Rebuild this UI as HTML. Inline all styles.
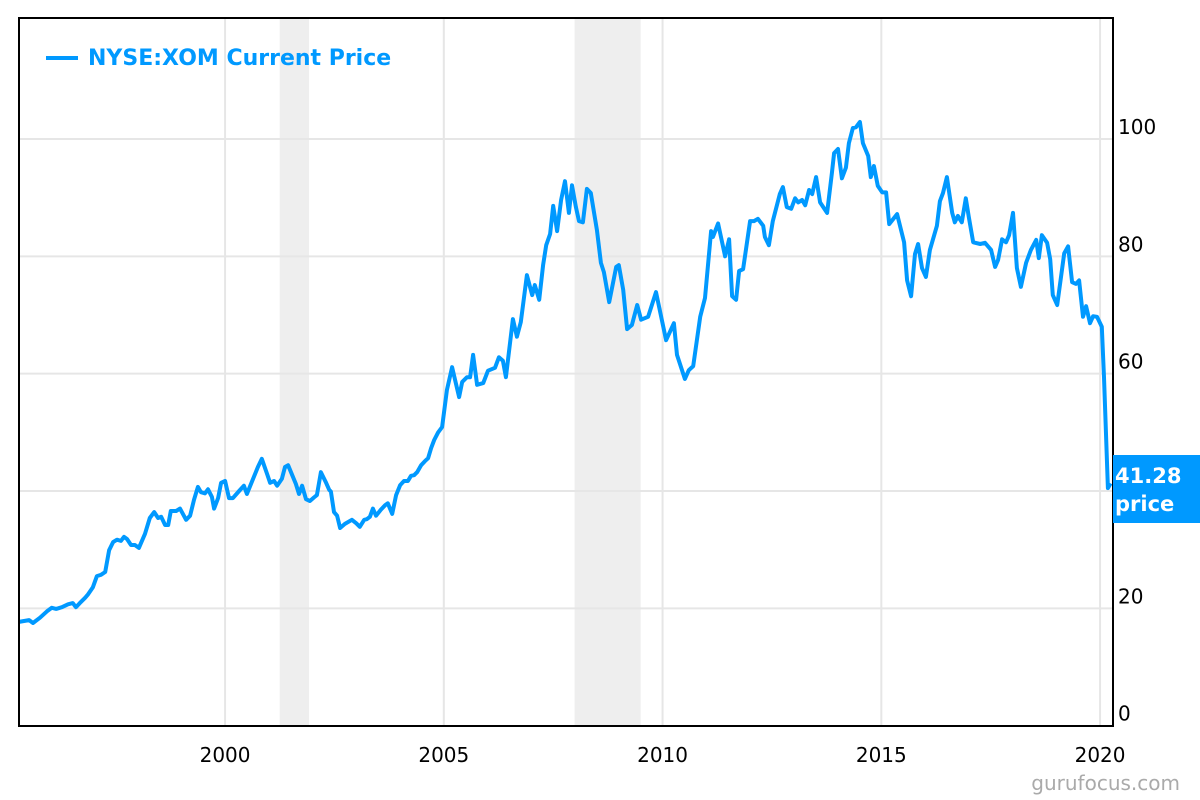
<!DOCTYPE html>
<html><head><meta charset="utf-8"><style>
html,body{margin:0;padding:0;background:#fff;}
svg{display:block;font-family:"DejaVu Sans","Liberation Sans",sans-serif;}
</style></head><body>
<svg id="chart" width="1200" height="800" viewBox="0 0 1200 800">
<g id="bands"></g>
<g id="grid"></g>
<g id="series"></g>
<rect x="19" y="18" width="1094" height="708" fill="none" stroke="#000" stroke-width="2"/>
<g id="yticks"></g>
<g id="xticks"></g>
<g>
<line x1="46" y1="58" x2="78" y2="58" stroke="#0099ff" stroke-width="4"/>
<text x="88" y="65" font-size="22" font-weight="bold" fill="#0099ff">NYSE:XOM Current Price</text>
</g>
<g id="tag"></g>
<text x="1180" y="790" font-size="20" fill="#aaa" text-anchor="end">gurufocus.com</text>
</svg>
<script>
const dates=[1995.29,1995.52,1995.61,1995.77,1995.93,1996.04,1996.14,1996.27,1996.41,1996.52,1996.59,1996.68,1996.80,1996.87,1996.98,1997.07,1997.16,1997.26,1997.35,1997.44,1997.53,1997.62,1997.69,1997.76,1997.85,1997.94,1998.03,1998.17,1998.28,1998.38,1998.47,1998.54,1998.63,1998.70,1998.76,1998.88,1998.97,1999.11,1999.20,1999.29,1999.38,1999.45,1999.54,1999.61,1999.70,1999.75,1999.84,1999.91,2000.00,2000.09,2000.18,2000.32,2000.43,2000.50,2000.62,2000.75,2000.84,2000.96,2001.03,2001.12,2001.19,2001.30,2001.37,2001.44,2001.62,2001.69,2001.76,2001.85,2001.94,2002.03,2002.10,2002.19,2002.31,2002.38,2002.42,2002.49,2002.56,2002.63,2002.74,2002.90,2003.00,2003.08,2003.18,2003.24,2003.31,2003.38,2003.45,2003.56,2003.66,2003.72,2003.82,2003.91,2004.00,2004.09,2004.18,2004.25,2004.32,2004.39,2004.48,2004.57,2004.64,2004.71,2004.78,2004.87,2004.96,2005.07,2005.19,2005.35,2005.42,2005.53,2005.60,2005.67,2005.76,2005.90,2006.01,2006.17,2006.26,2006.35,2006.42,2006.58,2006.67,2006.76,2006.90,2007.02,2007.08,2007.18,2007.27,2007.34,2007.43,2007.50,2007.59,2007.68,2007.77,2007.86,2007.93,2008.02,2008.09,2008.18,2008.27,2008.36,2008.50,2008.59,2008.66,2008.78,2008.94,2009.00,2009.10,2009.19,2009.30,2009.42,2009.51,2009.67,2009.85,2010.08,2010.26,2010.33,2010.51,2010.60,2010.70,2010.86,2010.97,2011.11,2011.15,2011.27,2011.43,2011.52,2011.59,2011.68,2011.75,2011.84,2012.00,2012.09,2012.18,2012.30,2012.34,2012.43,2012.52,2012.68,2012.75,2012.84,2012.94,2013.03,2013.10,2013.19,2013.26,2013.35,2013.42,2013.51,2013.60,2013.76,2013.87,2013.92,2014.01,2014.10,2014.19,2014.26,2014.35,2014.42,2014.51,2014.58,2014.70,2014.76,2014.83,2014.92,2015.02,2015.11,2015.18,2015.36,2015.52,2015.59,2015.68,2015.77,2015.84,2015.93,2016.02,2016.11,2016.27,2016.34,2016.41,2016.50,2016.62,2016.68,2016.75,2016.84,2016.93,2017.00,2017.10,2017.26,2017.37,2017.51,2017.60,2017.67,2017.76,2017.85,2017.92,2018.01,2018.10,2018.19,2018.31,2018.42,2018.54,2018.60,2018.67,2018.79,2018.86,2018.92,2019.02,2019.18,2019.27,2019.36,2019.45,2019.52,2019.61,2019.68,2019.77,2019.84,2019.93,2020.04,2020.09,2020.18,2020.24];
const prices=[17.7,18.0,17.5,18.4,19.5,20.1,19.9,20.2,20.7,20.9,20.2,20.9,21.8,22.4,23.6,25.5,25.7,26.2,29.9,31.3,31.7,31.5,32.2,31.8,30.8,30.8,30.3,32.7,35.4,36.4,35.4,35.6,34.2,34.2,36.6,36.6,37.0,35.1,35.8,38.5,40.7,39.8,39.6,40.3,39.0,37.0,38.8,41.4,41.7,38.8,38.8,40.0,40.9,39.5,41.7,44.1,45.5,42.9,41.4,41.7,40.9,42.1,44.1,44.4,41.2,39.5,40.9,38.6,38.3,38.9,39.3,43.2,41.4,40.2,39.9,36.4,35.8,33.7,34.4,35.1,34.5,33.9,35.1,35.2,35.6,37.0,35.8,36.8,37.6,37.9,36.1,39.3,41.0,41.7,41.7,42.6,42.7,43.2,44.4,45.1,45.6,47.3,48.7,50.0,50.9,57.2,61.1,56.0,58.6,59.4,59.4,63.2,58.1,58.4,60.5,61.0,62.8,62.2,59.4,69.3,66.3,68.8,76.8,73.4,75.1,72.6,78.5,81.9,83.8,88.6,84.3,89.6,92.8,87.4,92.1,88.4,86.0,85.8,91.5,90.8,84.5,78.9,77.3,72.2,78.2,78.5,74.3,67.6,68.3,71.7,69.2,69.7,73.9,65.7,68.6,63.2,59.1,60.6,61.3,69.7,72.9,84.3,83.3,85.6,80.0,82.9,73.2,72.6,77.5,77.8,86.0,86.0,86.4,85.2,83.3,81.9,86.0,90.6,91.8,88.4,88.1,89.9,89.2,89.6,88.7,91.3,90.6,93.5,89.2,87.4,94.2,97.6,98.3,93.3,95.1,99.3,101.9,102.0,102.9,99.3,97.1,93.5,95.4,92.0,90.9,90.9,85.5,87.2,82.4,75.9,73.2,80.4,82.1,78.0,76.5,81.1,85.2,89.4,90.8,93.5,87.4,85.8,86.9,85.8,89.9,86.7,82.4,82.1,82.3,81.1,78.2,79.4,82.9,82.4,83.6,87.4,78.0,74.8,78.9,81.1,82.8,79.7,83.6,82.3,79.5,73.4,71.7,80.5,81.7,75.6,75.3,75.9,69.7,71.5,68.6,69.8,69.7,68.0,59.4,40.5,41.3];
const yTicks=[0,20,40,60,80,100];
const xTicks=[2000,2005,2010,2015,2020];
const recessionStarts=[2001.25,2007.99];
const recessionEnds=[2001.92,2009.5];
const lastPrice="41.28";

const NS="http://www.w3.org/2000/svg";
const X0=19,X1=1113,T0=1995.29,PXY=43.75;
const Y0=725.7,PXV=5.867;
function xs(t){return X0+(t-T0)*PXY;}
function ys(v){return Y0-v*PXV;}
function mk(tag,attrs,parent){const e=document.createElementNS(NS,tag);for(const k in attrs)e.setAttribute(k,attrs[k]);parent.appendChild(e);return e;}

const bands=document.getElementById('bands');
recessionStarts.forEach((s,i)=>{
  const r=mk('rect',{x:xs(s),y:18,width:xs(recessionEnds[i])-xs(s),height:708,fill:'#eeeeee'},bands);
  
  
});
const grid=document.getElementById('grid');
const yt=document.getElementById('yticks');
yTicks.forEach(v=>{
  const y=ys(v);
  if(v>0){const l=mk('line',{x1:X0,x2:X1,y1:y,y2:y,stroke:'#e6e6e6','stroke-width':2},grid);
  
  }
  const t=mk('text',{x:1118,y:y-5,'font-size':20,fill:'#000'},yt);
  t.textContent=v;
  
  
});
const xt=document.getElementById('xticks');
xTicks.forEach(yr=>{
  const x=xs(yr);
  const l=mk('line',{x1:x,x2:x,y1:18,y2:726,stroke:'#e6e6e6','stroke-width':2},grid);
  
  
  const t=mk('text',{x:x,y:762,'font-size':20,fill:'#000','text-anchor':'middle'},xt);
  t.textContent=yr;
  
  
});
const series=document.getElementById('series');
const d=dates.map((t,i)=>(i?'L':'M')+xs(t).toFixed(1)+','+ys(prices[i]).toFixed(1)).join('');
const p=mk('path',{d:d,fill:'none',stroke:'#0099ff','stroke-width':4,'stroke-linejoin':'round'},series);


const tag=document.getElementById('tag');
const r=mk('rect',{x:1113,y:455,width:87,height:68,fill:'#0099ff'},tag);


const t1=mk('text',{x:1115,y:483,'font-size':21,'font-weight':'bold',fill:'#fff'},tag);
t1.textContent=lastPrice;


const t2=mk('text',{x:1115,y:511,'font-size':21,'font-weight':'bold',fill:'#fff'},tag);
t2.textContent='price';


</script>
</body></html>
